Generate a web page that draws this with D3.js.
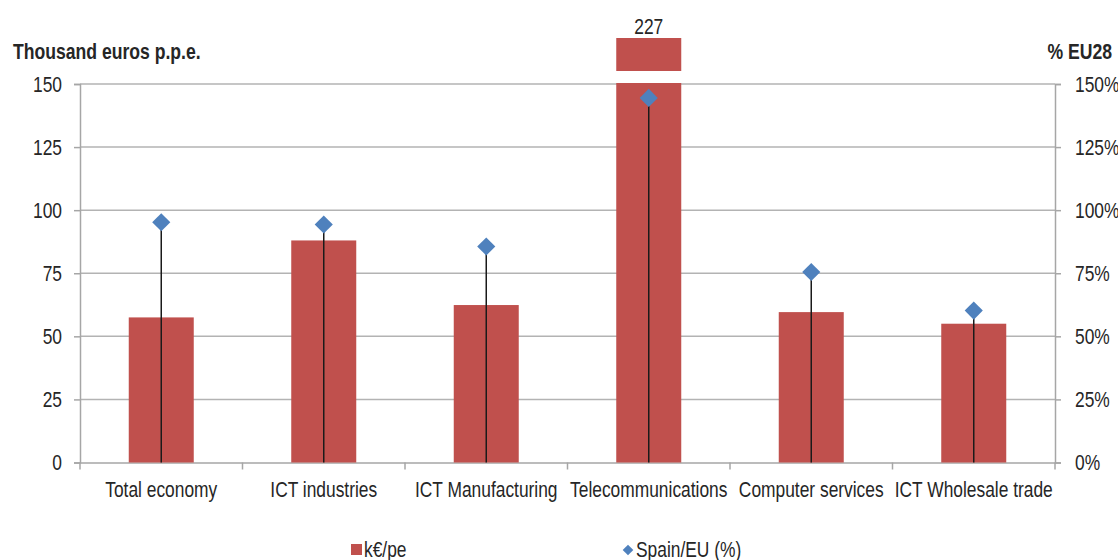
<!DOCTYPE html>
<html><head><meta charset="utf-8">
<script src="https://cdn.jsdelivr.net/npm/d3@7"></script>
<style>
body{margin:0;background:#fff;}
svg{display:block;}
text{font-family:"Liberation Sans",Arial,sans-serif;fill:#262626;}
</style></head>
<body><svg id="c" width="1118" height="560"></svg>
<script>
const categories = ["Total economy","ICT industries","ICT Manufacturing","Telecommunications","Computer services","ICT Wholesale trade"];
const kEuroPerPe = [57.5, 88, 62.4, 227, 59.6, 55];
const spainEuPct = [95.2, 94.3, 85.6, 144.5, 75.5, 60.2];
const leftTicks = [0,25,50,75,100,125,150];
const rightTicks = [0,25,50,75,100,125,150];

const svg = d3.select("#c");
const L = 80, R = 1055, T = 84, B = 462.5;
const FS = 22;
const x = d3.scaleBand().domain(categories).range([L,R]).paddingInner(0.6).paddingOuter(0.3);
const y = d3.scaleLinear().domain([0,150]).range([B,T]);
const y2 = d3.scaleLinear().domain([0,150]).range([B,T]);
const grid = "#b3b3b3", axisCol = "#a6a6a6";

svg.append("g").selectAll("line").data(leftTicks.filter(d=>d>0)).join("line")
  .attr("x1",L).attr("x2",R).attr("y1",d=>y(d)).attr("y2",d=>y(d))
  .attr("stroke",grid).attr("stroke-width",1.5);

const ga = svg.append("g").attr("transform",`translate(${L},0)`)
  .call(d3.axisLeft(y).tickValues(leftTicks).tickSize(6).tickPadding(12));
const gr = svg.append("g").attr("transform",`translate(${R},0)`)
  .call(d3.axisRight(y2).tickValues(rightTicks).tickSize(6).tickPadding(14).tickFormat(d=>d+"%"));
const boundaries = d3.range(categories.length+1).map(i=>L + i*(R-L)/categories.length);
const gx = svg.append("g").attr("transform",`translate(0,${B})`)
  .call(d3.axisBottom(x).tickSize(0).tickPadding(18.5));
gx.append("g").selectAll("line").data(boundaries).join("line")
  .attr("x1",d=>d).attr("x2",d=>d).attr("y1",0).attr("y2",7).attr("stroke",axisCol).attr("stroke-width",1.5);

[ga,gr,gx].forEach(g=>{
  g.select(".domain").attr("stroke",axisCol).attr("stroke-width",1.5);
  g.selectAll(".tick line").attr("stroke",axisCol).attr("stroke-width",1.5);
  g.selectAll("text").attr("font-size",FS).attr("fill","#262626")
   .attr("font-family",'"Liberation Sans",Arial,sans-serif');
});
gx.selectAll(".tick text").attr("dy","0.71em");

const barCol = "#c0504d";
const ymax = y.domain()[1];
svg.append("g").selectAll("rect").data(categories).join("rect")
  .attr("x",d=>x(d)).attr("width",x.bandwidth())
  .attr("y",(d,i)=> kEuroPerPe[i] > ymax ? y(ymax)-1 : y(kEuroPerPe[i]))
  .attr("height",(d,i)=> B - (kEuroPerPe[i] > ymax ? y(ymax)-1 : y(kEuroPerPe[i])))
  .attr("fill",barCol);

const broken = categories.map((c,i)=>({c,v:kEuroPerPe[i]})).filter(d=>d.v>ymax);
svg.append("g").selectAll("rect").data(broken).join("rect")
  .attr("x",d=>x(d.c)).attr("width",x.bandwidth())
  .attr("y",T-46).attr("height",33).attr("fill",barCol);
svg.append("g").selectAll("text").data(broken).join("text")
  .attr("x",d=>x(d.c)+x.bandwidth()/2).attr("y",T-50)
  .attr("text-anchor","middle").attr("font-size",FS).text(d=>d.v);

const cx = d=>x(d)+x.bandwidth()/2;
svg.append("g").selectAll("line").data(categories).join("line")
  .attr("x1",cx).attr("x2",cx).attr("y1",(d,i)=>y2(spainEuPct[i])).attr("y2",B)
  .attr("stroke","#1a1a1a").attr("stroke-width",1.5);
const diamond = d3.symbol().type(d3.symbolDiamond2).size(210);
svg.append("g").selectAll("path").data(categories).join("path")
  .attr("transform",(d,i)=>`translate(${cx(d)},${y2(spainEuPct[i])})`)
  .attr("d",diamond).attr("fill","#4f81bd");

svg.append("text").attr("x",13).attr("y",59).attr("font-size",22).attr("font-weight","bold").attr("data-sx",0.8).text("Thousand euros p.p.e.");
svg.append("text").attr("x",1112).attr("y",59).attr("text-anchor","end").attr("font-size",22).attr("font-weight","bold").attr("data-sx",0.8).text("% EU28");

const lg = svg.append("g");
lg.append("rect").attr("x",351).attr("y",544).attr("width",11).attr("height",11).attr("fill",barCol);
lg.append("text").attr("x",364).attr("y",557).attr("font-size",FS).text("k€/pe");
lg.append("path").attr("transform","translate(628,550)").attr("d",d3.symbol().type(d3.symbolDiamond2).size(72)).attr("fill","#4f81bd");
lg.append("text").attr("x",636).attr("y",557).attr("font-size",FS).text("Spain/EU (%)");

// narrow the font horizontally (reference uses a condensed face)
svg.selectAll("text").each(function(){
  const t = d3.select(this);
  const sx = +(t.attr("data-sx") || 0.79);
  const tx = +t.attr("x") || 0, ty = +t.attr("y") || 0;
  const prev = t.attr("transform") || "";
  t.attr("x",0).attr("y",0).attr("transform",`${prev} translate(${tx},${ty}) scale(${sx},1)`);
});
</script></body></html>
